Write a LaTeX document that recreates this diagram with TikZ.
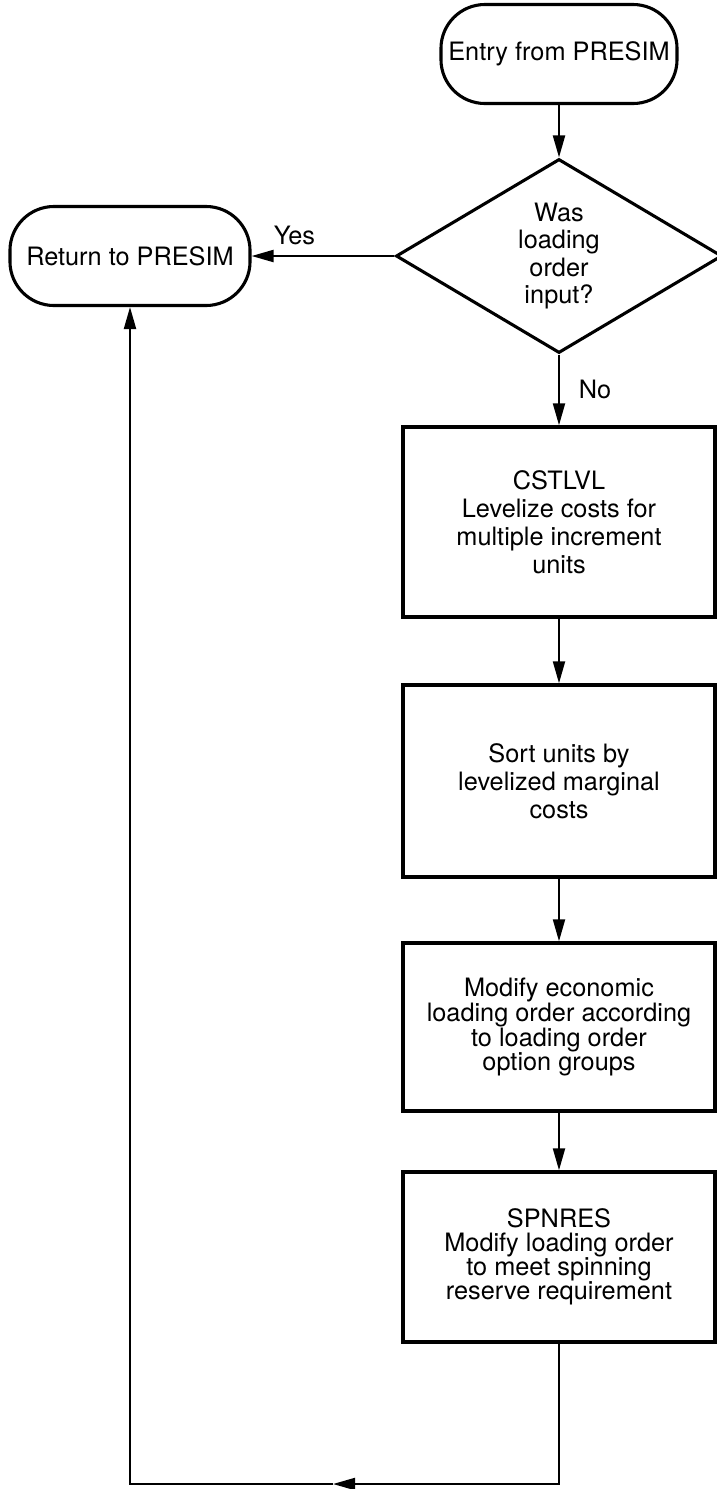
\documentclass[tikz,border=0pt]{standalone}
\usepackage{fontspec}
\setmainfont{TeX Gyre Heros}
\usetikzlibrary{arrows.meta,shapes.geometric,positioning}

\begin{document}
\begin{tikzpicture}[x=0.025cm,y=-0.025cm]
\tikzstyle{terminal} = [
	draw,
	line width=2.2pt,
	rounded corners=1.1cm, %big round ends
	minimum height=2.475cm,
	inner sep=0pt,
	font=\fontsize{18}{20}\selectfont
];
\tikzstyle{decision} = [
	draw,
	diamond,
	line width=2.2pt,
	minimum width=8.15cm,
	minimum height=4.85cm,
	inner sep=0pt,
	align=center,
	font=\fontsize{18}{19.5}\selectfont
];
\tikzstyle{process} = [
	draw,
	line width=2.4pt,
	minimum width=7.8cm,
	align=center,
	font=\fontsize{18}{20}\selectfont
];
\tikzstyle{tight} = [font=\fontsize{18}{17}\selectfont];
\tikzstyle{flow} = [
	line width=1.5pt,
	-{Triangle[length=5.5mm,width=3mm]}
];

\useasboundingbox (0,0) rectangle (717,1489);

\begin{scope}
	\node[terminal,minimum width=5.9cm](Entry) at (559, 54) {Entry from PRESIM};
	\node[terminal,minimum width=6cm](Return) at (130, 256) {Return to PRESIM};
	\node[decision](Input) at (559, 256) {Was\\loading\\order\\input?};
	\node[process,minimum height=4.75cm](Cstlvl) at (559, 522) {CSTLVL\\Levelize costs for\\multiple increment\\units};
	\node[process,minimum height=4.8cm](Sort) at (559, 781) {Sort units by\\levelized marginal\\costs};
	\node[process,tight,minimum height=4.2cm](Econ) at (559, 1027) {Modify economic\\loading order according\\to loading order\\option groups};
	\node[process,tight,minimum height=4.25cm](Spnres) at (559, 1257) {SPNRES\\Modify loading order\\to meet spinning\\reserve requirement};
	\coordinate (LOOP) at (333, 1484);
\end{scope}

\draw [flow] (Entry) to[] (Input);
\draw [flow] (Input.west) to node[pos=0.7,above=4pt,font=\fontsize{18}{20}\selectfont]{Yes} (Return.east);
\draw [flow] (Input.south) to node[right=10pt,font=\fontsize{18}{20}\selectfont]{No} (Cstlvl.north);
\draw [flow] (Cstlvl) to[] (Sort);
\draw [flow] (Sort) to[] (Econ);
\draw [flow] (Econ) to[] (Spnres);
\draw [flow] (Spnres.south) |- (LOOP);
\draw [flow] (LOOP) -| (Return.south);

\end{tikzpicture}
\end{document}
